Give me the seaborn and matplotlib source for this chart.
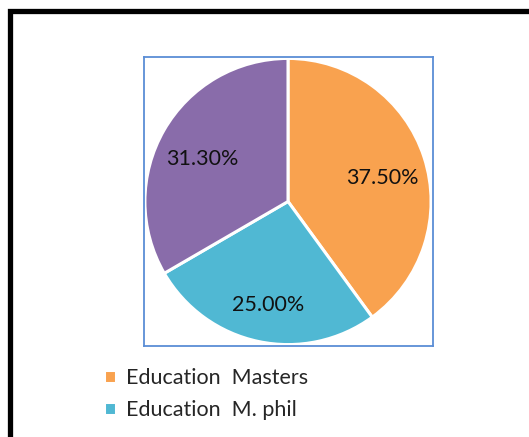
import numpy as np
import pandas as pd
import matplotlib
matplotlib.use("Agg")
import matplotlib.pyplot as plt
import seaborn as sns
from matplotlib.patches import Rectangle

# Values as shown on the chart (they don't add to 100, pie normalises them)
categories = ["Education  Masters", "Education  M. phil", "Education  Ph.D"]
values = [37.5, 25.0, 31.3]
colors = ["#F9A24F", "#50B8D3", "#896CAA"]
legend_shown = 2  # only two legend rows are visible in the picture

sns.set_style("white")
plt.rcParams['font.family'] = ['Lato', 'DejaVu Sans']

W, H = 529, 437
fig = plt.figure(figsize=(W / 100, H / 100), dpi=100)

# pie axes with blue frame
ax = fig.add_axes([143 / W, 1 - 346 / H, 290 / W, 289 / H])
total = sum(values)
wedges, texts, autotexts = ax.pie(
    values, colors=colors, startangle=90, counterclock=False,
    autopct=lambda p: f"{p * total / 100:.2f}%", pctdistance=0.69,
    wedgeprops=dict(edgecolor="white", linewidth=2.2),
    textprops=dict(fontsize=15.5, color="#111111"))
# labels sit a little lower in the original
for t in autotexts:
    x, y = t.get_position()
    t.set_position((x, y - 0.05))
ax.set_xlim(-1.01, 1.01)
ax.set_ylim(-1.01, 1.01)
ax.set_aspect("equal")
ax.set_frame_on(True)
ax.set_xticks([])
ax.set_yticks([])
for s in ax.spines.values():
    s.set_visible(True)
    s.set_color("#5B8ED6")
    s.set_linewidth(1.3)

# legend below the pie
fig.legend(wedges[:legend_shown], categories[:legend_shown],
           loc="upper left", bbox_to_anchor=(104 / W, 1 - 368 / H),
           frameon=False, fontsize=15.5, handlelength=0.58, handleheight=0.58,
           handletextpad=0.45, labelspacing=0.55, borderpad=0, borderaxespad=0)

# thick black outer border (cut off at right and bottom)
fig.patches.append(Rectangle((9.5 / W, -0.2), 1.2, 1 - 10.5 / H + 0.2,
                             transform=fig.transFigure, fill=False,
                             edgecolor="black", linewidth=3.8, zorder=10))

fig.savefig("out.png", dpi=100)
